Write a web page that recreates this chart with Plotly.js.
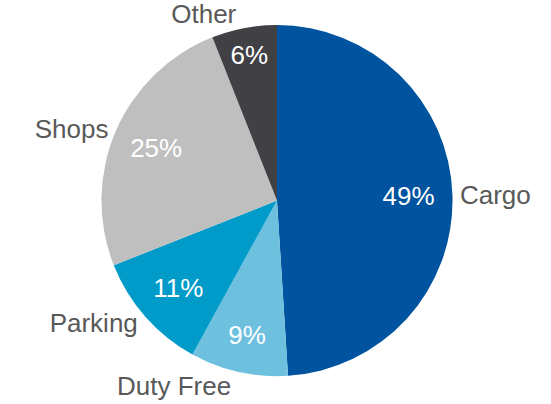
<!DOCTYPE html>
<html>
<head>
<meta charset="utf-8">
<script src="https://cdn.plot.ly/plotly-3.0.1.min.js"></script>
<style>html,body{margin:0;padding:0;background:#fff;}#chart{width:551px;height:404px;}</style>
</head>
<body>
<div id="chart"></div>
<script>
const categories = ["Cargo", "Duty Free", "Parking", "Shops", "Other"];
const shares = [49, 9, 11, 25, 6];
const colors = ["#00539F", "#6DC1DF", "#009BC9", "#BFBFBF", "#404045"];

const domain = {x: [0.1833, 0.8221], y: [0.069, 0.938]};
const FONT = "Liberation Sans, Arial, sans-serif";
const base = {
  type: "pie", labels: categories, values: shares, sort: false,
  direction: "clockwise", rotation: 0, domain: domain, showlegend: false
};
const fillTrace = Object.assign({}, base, {
  marker: {colors: colors, line: {width: 0}},
  textinfo: "none",
  hoverinfo: "label+percent"
});
const pctTrace = Object.assign({}, base, {
  hole: 0.5,
  marker: {colors: categories.map(() => "rgba(0,0,0,0)"), line: {width: 0}},
  texttemplate: "%{value}%",
  textposition: "inside",
  insidetextorientation: "horizontal",
  insidetextfont: {family: FONT, size: 26, color: "#ffffff"},
  hoverinfo: "skip"
});
const labelTrace = Object.assign({}, base, {
  marker: {colors: categories.map(() => "rgba(0,0,0,0)"), line: {width: 0}},
  texttemplate: "%{label}",
  textposition: "outside",
  outsidetextfont: {family: FONT, size: 26, color: "#595959"},
  automargin: false,
  hoverinfo: "skip"
});
Plotly.newPlot("chart", [fillTrace, pctTrace, labelTrace], {
  width: 551, height: 404,
  margin: {l: 0, r: 0, t: 0, b: 0},
  paper_bgcolor: "#ffffff",
  showlegend: false
}, {displayModeBar: false, staticPlot: true});
</script>
</body>
</html>
